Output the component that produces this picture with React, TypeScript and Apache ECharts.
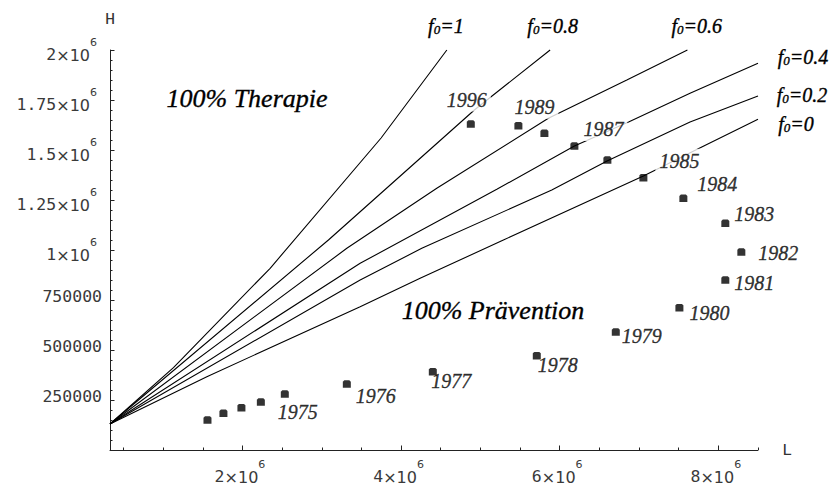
import React, { useEffect, useRef } from 'react';
import * as echarts from 'echarts';

// ---- data ----
const yearLabels = ['', '', '', '', '1975', '1976', '1977', '1978', '1979', '1980', '1981', '1982', '1983', '1984', '1985', '', '1987', '', '1989', '1996'];
const pointL = [1559000, 1760000, 1987000, 2232000, 2534000, 3316000, 4400000, 5711000, 6707000, 7509000, 8088000, 8290000, 8088000, 7559000, 7055000, 6601000, 6185000, 5807000, 5479000, 4879000];
const pointH = [150000, 183500, 211500, 240000, 280000, 330000, 391500, 471500, 590000, 711500, 850000, 990000, 1133500, 1258500, 1361500, 1450000, 1520000, 1583500, 1621500, 1630000];

const f0Values = ['1', '0.8', '0.6', '0.4', '0.2', '0'];
const curveL = [
  [330000, 1130000, 2349000, 3748000, 4577000],
  [330000, 3084000, 4924000, 5879000],
  [330000, 3316000, 4450000, 5857000, 6846000, 7610000],
  [330000, 3484000, 5207000, 6185000, 6875000, 7643000, 8500000],
  [330000, 3484000, 4261000, 5900000, 6597000, 7643000, 8500000],
  [330000, 1551000, 3484000, 4240000, 5290000, 7055000, 7791000, 8500000],
];
const curveH = [
  [130000, 411500, 908500, 1560000, 2000000],
  [130000, 1050000, 1700000, 2000000],
  [130000, 1008500, 1308500, 1658500, 1850000, 2000000],
  [130000, 933500, 1303500, 1520000, 1641500, 1783500, 1933500],
  [130000, 850000, 1008500, 1300000, 1445000, 1640000, 1770000],
  [130000, 366500, 716500, 858500, 1050000, 1370000, 1515000, 1653500],
];

const xMajorTicks = [2000000, 4000000, 6000000, 8000000];
const xMinorTicks = [500000, 1000000, 1500000, 2500000, 3000000, 3500000, 4500000, 5000000, 5500000, 6500000, 7000000, 7500000, 8500000];
const yTickValues = [250000, 500000, 750000, 1000000, 1250000, 1500000, 1750000, 2000000];

// ---- layout / style (not data) ----
const labelOffsets: Record<string, [number, number]> = {
  '1975': [13, 18], '1976': [29, 11.5], '1977': [18.5, 9.5], '1978': [21, 9.5],
  '1979': [26, 3.5], '1980': [30, 5], '1981': [29, 2.5], '1982': [37, 1],
  '1983': [29, -9], '1984': [34, -14], '1985': [36, -17], '1987': [29, -17],
  '1989': [16, -19], '1996': [-4, -24.5],
};
const labelsOverLines = ['1985', '1987', '1989', '1996'];
const endLabelOffsets: [number, number][] = [[-1, -24], [2.5, -24], [9.4, -24], [45, -6], [44, -1], [38, 5]];

const serif = 'Liberation Serif, Times New Roman, serif';
const dvSans = 'DejaVu Sans, sans-serif';
const monoSans = 'DejaVu Sans Mono, monospace';
const mono = 'Liberation Mono, Courier New, monospace';
const tickColor = '#3a3a3a';

function fmtTick(v: number): string {
  if (v === 0) return '';
  if (v < 1000000) return `{p|${v}}`;
  const m = v / 1000000;
  return `{m|${m}}{x|×}{t|10}{s|6}`;
}

const tickRich = {
  p: { fontFamily: monoSans, fontSize: 16.5, lineHeight: 26, color: tickColor, padding: [0, 0, 7, 0] },
  m: { fontFamily: monoSans, fontSize: 16.5, lineHeight: 26, color: tickColor, verticalAlign: 'bottom' },
  x: { fontFamily: dvSans, fontSize: 16, lineHeight: 26, color: tickColor, verticalAlign: 'bottom' },
  t: { fontFamily: dvSans, fontSize: 16, lineHeight: 26, color: tickColor, verticalAlign: 'bottom' },
  s: { fontFamily: dvSans, fontSize: 11, lineHeight: 12, color: tickColor, verticalAlign: 'top', padding: [0, 5, 0, 0] },
};

const serifText = { textBorderColor: '#000', textBorderWidth: 0.35 };

export default function App() {
  const ref = useRef<HTMLDivElement>(null);
  useEffect(() => {
    if (!ref.current) return;
    const chart = echarts.init(ref.current, undefined, { renderer: 'svg' });
    const xMin = 330000, xMax = 8500000;

    const lineSeries = curveL.map((ls, i) => ({
      type: 'line',
      name: 'f0=' + f0Values[i],
      data: ls.map((l, j) => [l, curveH[i][j]]),
      showSymbol: false,
      xAxisIndex: 0,
      yAxisIndex: 0,
      lineStyle: { color: '#000', width: 1.1 },
      z: 2,
      silent: true,
      clip: false,
      emphasis: { disabled: true },
      endLabel: {
        show: true,
        formatter: `{f|f}{s|0}{f|=${f0Values[i]}}`,
        distance: 0,
        align: 'center',
        verticalAlign: 'middle',
        offset: endLabelOffsets[i],
        rich: {
          f: { fontFamily: serif, fontStyle: 'italic', fontSize: 20, color: '#000', verticalAlign: 'bottom', ...serifText },
          s: { fontFamily: serif, fontStyle: 'italic', fontSize: 13, color: '#000', verticalAlign: 'bottom', ...serifText },
        },
      },
    }));

    const scatterData = pointL.map((l, i) => {
      const lab = yearLabels[i];
      const item: any = { value: [l, pointH[i]] };
      if (lab) {
        const over = labelsOverLines.indexOf(lab) >= 0;
        item.label = {
          show: true,
          formatter: lab,
          position: 'inside',
          offset: labelOffsets[lab],
          fontFamily: serif,
          fontStyle: 'italic',
          fontSize: 20,
          color: '#000',
          ...serifText,
          backgroundColor: over ? '#fff' : 'transparent',
          padding: over ? [2, 4] : 0,
        };
      }
      return item;
    });

    chart.setOption({
      animation: false,
      backgroundColor: '#fff',
      grid: { left: 110, right: 78, top: 50, bottom: 36 },
      xAxis: [
        {
          type: 'value', min: xMin, max: xMax, position: 'bottom',
          name: 'L', nameLocation: 'end', nameGap: 24,
          nameTextStyle: { fontFamily: mono, fontSize: 17, color: '#333', verticalAlign: 'middle' },
          axisLine: { show: true, onZero: false, lineStyle: { color: '#222', width: 1 } },
          axisTick: { show: true, inside: true, length: 4.5, customValues: xMajorTicks, lineStyle: { color: '#222' } },
          axisLabel: { show: true, customValues: xMajorTicks, formatter: fmtTick, margin: 9, rich: tickRich },
          splitLine: { show: false },
        },
        {
          type: 'value', min: xMin, max: xMax, position: 'bottom',
          axisLine: { show: false },
          axisTick: { show: true, inside: true, length: 2.5, customValues: xMinorTicks, lineStyle: { color: '#222' } },
          axisLabel: { show: false },
          splitLine: { show: false },
        },
      ],
      yAxis: {
        type: 'value', min: 0, max: 2000000, interval: 250000,
        name: 'H', nameLocation: 'end', nameGap: 22,
        nameTextStyle: { fontFamily: mono, fontSize: 17, color: '#333', align: 'center' },
        axisLine: { show: true, onZero: false, lineStyle: { color: '#222', width: 1 } },
        axisTick: { show: true, inside: true, length: 4.5, lineStyle: { color: '#222' } },
        minorTick: { show: true, splitNumber: 5, length: 2.5, lineStyle: { color: '#222' } },
        axisLabel: {
          show: true, customValues: yTickValues, formatter: fmtTick, margin: 8, rich: tickRich,
        },
        splitLine: { show: false },
        minorSplitLine: { show: false },
      },
      graphic: [
        {
          type: 'text', x: 247, y: 98,
          style: { text: '100% Therapie', fontFamily: serif, fontStyle: 'italic', fontSize: 26, fill: '#000', stroke: '#000', lineWidth: 0.35, align: 'center', verticalAlign: 'middle' },
        },
        {
          type: 'text', x: 493, y: 310,
          style: { text: '100% Prävention', fontFamily: serif, fontStyle: 'italic', fontSize: 26, fill: '#000', stroke: '#000', lineWidth: 0.35, align: 'center', verticalAlign: 'middle' },
        },
      ],
      series: [
        ...lineSeries,
        {
          type: 'scatter',
          name: 'Jahre',
          data: scatterData,
          symbol: 'path://M1.5,0 L6.5,0 L8,1.5 L8,8 L0,8 L0,1.5 Z',
          symbolSize: [8, 7.5],
          itemStyle: { color: '#000' },
          z: 3,
          silent: true,
          emphasis: { disabled: true },
        },
      ],
    });
    return () => chart.dispose();
  }, []);
  return <div ref={ref} style={{ position: 'fixed', left: 0, top: 0, width: 836, height: 486, background: '#fff' }} />;
}
